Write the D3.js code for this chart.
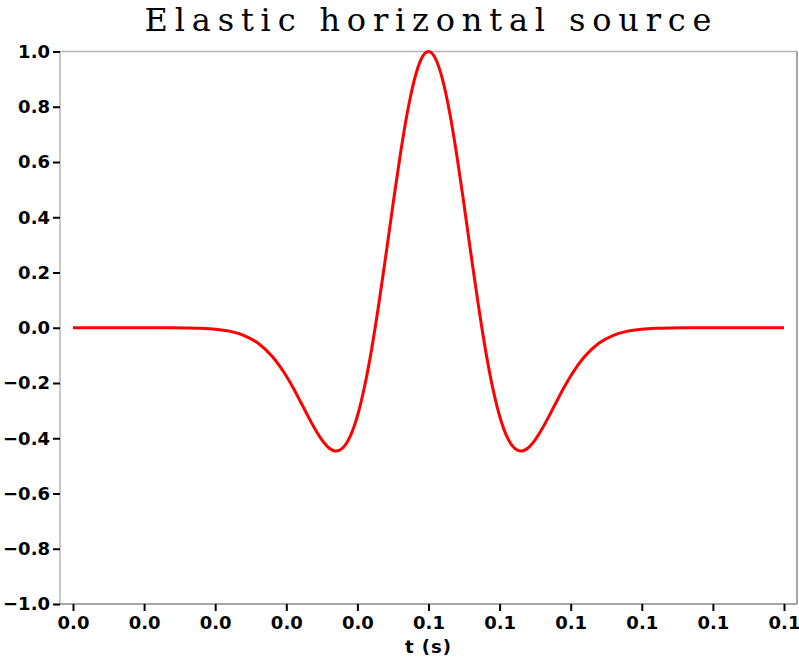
<!DOCTYPE html>
<html><head><meta charset="utf-8">
<script src="https://cdn.jsdelivr.net/npm/d3@7"></script>
<style>body{margin:0;background:#fff}svg{display:block}</style>
</head><body>
<svg id="c" width="799" height="659"></svg>
<script>
const title = "Elastic horizontal source";
const xLabel = "t (s)";
const times = [0,0.002,0.004,0.006,0.008,0.010,0.012,0.014,0.016,0.018,0.020,0.022,0.024,0.026,0.028,0.030,
  0.031,0.032,0.033,0.034,0.035,0.036,0.037,0.038,0.039,0.040,0.041,0.042,0.043,0.044,0.045,0.046,0.047,0.048,0.049,
  0.050,0.051,0.052,0.053,0.054,0.055,0.056,0.057,0.058,0.059,0.060,0.061,0.062,0.063,0.064,0.065,0.066,0.067,0.068,0.069,
  0.070,0.072,0.074,0.076,0.078,0.080,0.082,0.084,0.086,0.088,0.090,0.092,0.094,0.096,0.098,0.100];
const amplitude = [0,0,0,0,0,0,-0.0001,-0.0002,-0.0007,-0.0019,-0.0051,-0.0122,-0.0272,-0.0553,-0.1033,-0.1749,
  -0.2191,-0.2678,-0.3174,-0.3651,-0.4061,-0.4351,-0.4463,-0.4336,-0.3925,-0.3195,-0.2138,-0.0776,0.0839,0.2618,0.4451,0.6210,0.7756,0.8965,0.9736,
  1.0,0.9736,0.8965,0.7756,0.6210,0.4451,0.2618,0.0839,-0.0776,-0.2138,-0.3195,-0.3925,-0.4336,-0.4463,-0.4351,-0.4061,-0.3651,-0.3174,-0.2678,-0.2191,
  -0.1749,-0.1033,-0.0553,-0.0272,-0.0122,-0.0051,-0.0019,-0.0007,-0.0002,-0.0001,0,0,0,0,0,0];
const xTicks = [0,0.01,0.02,0.03,0.04,0.05,0.06,0.07,0.08,0.09,0.1];
const xTickLabels = ["0.0","0.0","0.0","0.0","0.0","0.1","0.1","0.1","0.1","0.1","0.1"];
const yTicks = [-1,-0.8,-0.6,-0.4,-0.2,0,0.2,0.4,0.6,0.8,1];
const yTickLabels = ["\u22121.0","\u22120.8","\u22120.6","\u22120.4","\u22120.2","0.0","0.2","0.4","0.6","0.8","1.0"];

const svg = d3.select("#c");
const L = 60, R = 797, T = 51.5, B = 604;
const pad = 13/7110;
const x = d3.scaleLinear().domain([0 - pad, 0.1 + pad]).range([L, R]);
const y = d3.scaleLinear().domain([-1, 1]).range([B, T]);

// frame
svg.append("line").attr("x1",L).attr("x2",R).attr("y1",T).attr("y2",T).attr("stroke","#b4b4b4").attr("stroke-width",1.5);
svg.append("line").attr("x1",L).attr("x2",L).attr("y1",T).attr("y2",B).attr("stroke","#b4b4b4").attr("stroke-width",1.5);
svg.append("line").attr("x1",R).attr("x2",R).attr("y1",T).attr("y2",B).attr("stroke","#888").attr("stroke-width",1.5);
svg.append("line").attr("x1",L).attr("x2",R).attr("y1",B).attr("y2",B).attr("stroke","#888").attr("stroke-width",1.5);

const font = "'DejaVu Sans', sans-serif";
// y axis
const yAxis = d3.axisLeft(y).tickValues(yTicks).tickSize(7).tickPadding(3)
  .tickFormat((d,i) => yTickLabels[i]);
const gy = svg.append("g").attr("transform",`translate(${L},0)`).call(yAxis);
gy.select(".domain").remove();
gy.selectAll(".tick line").attr("stroke","#000").attr("stroke-width",2);
gy.selectAll(".tick text").attr("font-family",font).attr("font-weight","bold").attr("font-size",18).attr("fill","#000");

// x axis
const xAxis = d3.axisBottom(x).tickValues(xTicks).tickSize(7).tickPadding(5)
  .tickFormat((d,i) => xTickLabels[i]);
const gx = svg.append("g").attr("transform",`translate(0,${B})`).call(xAxis);
gx.select(".domain").remove();
gx.selectAll(".tick line").attr("stroke","#000").attr("stroke-width",2);
gx.selectAll(".tick text").attr("font-family",font).attr("font-weight","bold").attr("font-size",18).attr("fill","#000");

svg.append("text").attr("x",x(0.05)).attr("y",653).attr("text-anchor","middle")
  .attr("font-family",font).attr("font-weight","bold").attr("font-size",18)
  .attr("letter-spacing",1).text(xLabel);

svg.append("text").attr("x",428).attr("y",30.5).attr("text-anchor","middle")
  .attr("font-family","'DejaVu Serif', serif").attr("font-size",32)
  .attr("textLength",567).attr("lengthAdjust","spacing").text(title);

// curve
const data = times.map((t,i) => [t, amplitude[i]]);
const line = d3.line().x(d => x(d[0])).y(d => y(d[1])).curve(d3.curveMonotoneX);
svg.append("path").datum(data).attr("d",line).attr("fill","none").attr("stroke","#ff0000")
  .attr("stroke-width",3).attr("stroke-linejoin","round");
</script>
</body></html>
